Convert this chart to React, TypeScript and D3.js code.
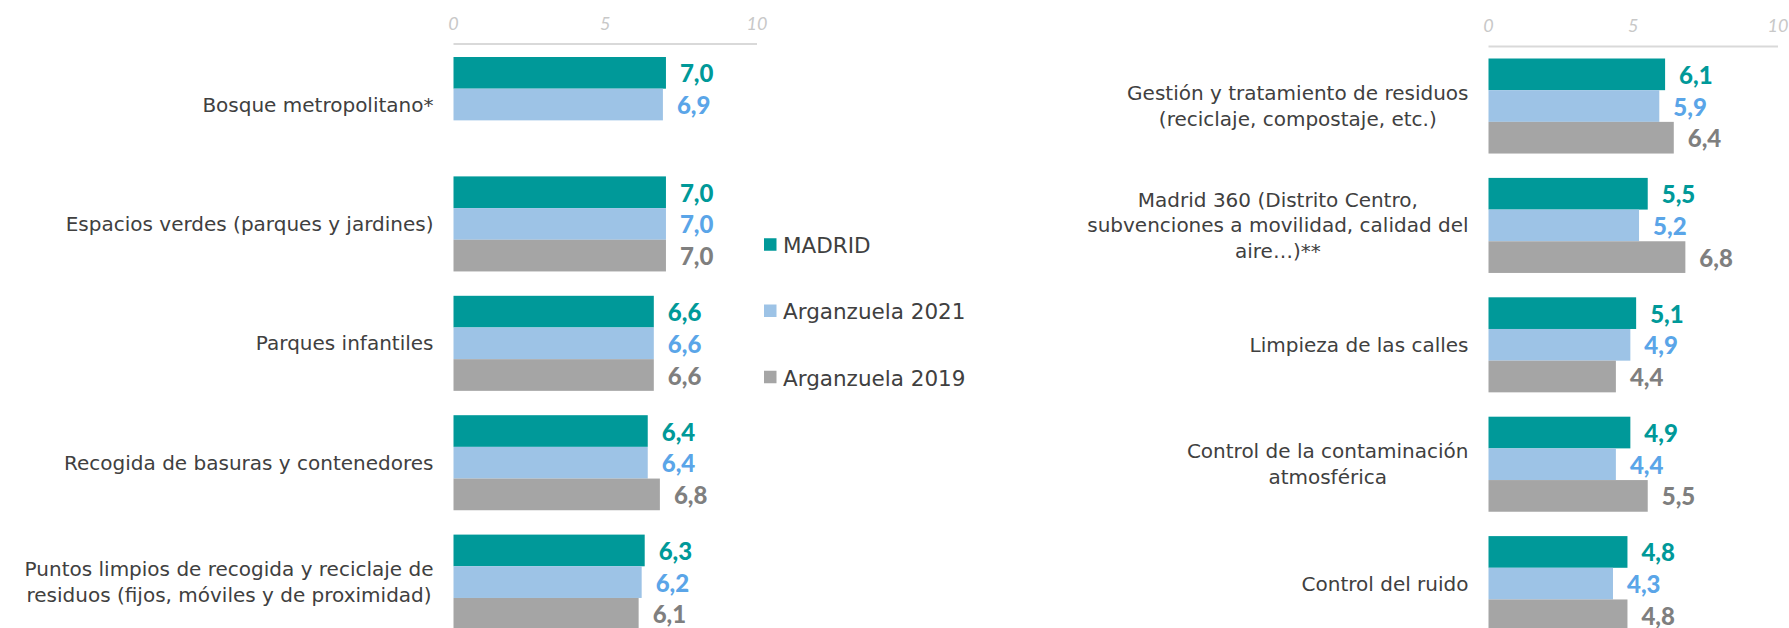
import React from "react";
import * as d3 from "d3";

const seriesNames = ["MADRID", "Arganzuela 2021", "Arganzuela 2019"];
const seriesColors = ["#009999", "#9DC3E6", "#A5A5A5"];
const valueColors = ["#009999", "#5AA5E8", "#7F7F7F"];

const leftCategories = [
  "Bosque metropolitano*",
  "Espacios verdes (parques y jardines)",
  "Parques infantiles",
  "Recogida de basuras y contenedores",
  "Puntos limpios de recogida y reciclaje de\nresiduos (fijos, móviles y de proximidad)",
];
const leftMadrid = [7.0, 7.0, 6.6, 6.4, 6.3];
const leftArg2021 = [6.9, 7.0, 6.6, 6.4, 6.2];
const leftArg2019: (number | null)[] = [null, 7.0, 6.6, 6.8, 6.1];

const rightCategories = [
  "Gestión y tratamiento de residuos\n(reciclaje, compostaje, etc.)",
  "Madrid 360 (Distrito Centro,\nsubvenciones a movilidad, calidad del\naire…)**",
  "Limpieza de las calles",
  "Control de la contaminación\natmosférica",
  "Control del ruido",
];
const rightMadrid = [6.1, 5.5, 5.1, 4.9, 4.8];
const rightArg2021 = [5.9, 5.2, 4.9, 4.4, 4.3];
const rightArg2019 = [6.4, 6.8, 4.4, 5.5, 4.8];

const tickValues = [0, 5, 10];

const LABEL_FONT = "'DejaVu Sans'";
const LABEL_SIZE = 20;
const LINE_H = 25.7;

let measureCtx: CanvasRenderingContext2D | null = null;
function measure(text: string, font: string): number {
  if (!measureCtx) {
    const c = document.createElement("canvas");
    measureCtx = c.getContext("2d");
  }
  if (!measureCtx) return text.length * 10;
  measureCtx.font = font;
  return measureCtx.measureText(text).width;
}

type PanelProps = {
  categories: string[];
  series: (number | null)[][];
  x0: number;
  x1: number;
  top: number;
  axisY: number;
  tickY: number;
};

function Panel({ categories, series, x0, x1, top, axisY, tickY }: PanelProps) {
  const x = d3.scaleLinear().domain([0, 10]).range([x0, x1]);
  const y = d3
    .scaleBand<string>()
    .domain(categories)
    .range([top, top + 119.4 * (categories.length - 0.204)])
    .paddingInner(0.204)
    .paddingOuter(0);
  const inner = d3
    .scaleBand<string>()
    .domain(seriesNames)
    .range([0, y.bandwidth()])
    .padding(0);
  const labelRight = x(0) - 20;
  const font = `${LABEL_SIZE}px ${LABEL_FONT}`;

  return (
    <g>
      {tickValues.map((t) => (
        <text
          key={t}
          x={x(t)}
          y={tickY}
          textAnchor="middle"
          dominantBaseline="central"
          fontFamily="Lato"
          fontStyle="italic"
          fontSize={18}
          fill="#C8C8C8"
        >
          {t}
        </text>
      ))}
      <line x1={x(0)} x2={x(10)} y1={axisY} y2={axisY} stroke="#D9D9D9" strokeWidth={2} />
      {categories.map((cat, ci) => {
        const lines = cat.split("\n");
        const widths = lines.map((l) => measure(l, font));
        const maxW = Math.max(...widths);
        const cx = labelRight - maxW / 2;
        const cy = (y(cat) as number) + y.bandwidth() / 2;
        const startY = cy - ((lines.length - 1) * LINE_H) / 2;
        return (
          <g key={cat}>
            {lines.map((l, li) => (
              <text
                key={li}
                x={cx}
                y={startY + li * LINE_H}
                textAnchor="middle"
                dominantBaseline="central"
                fontFamily={LABEL_FONT}
                fontSize={LABEL_SIZE}
                fill="#404040"
              >
                {l}
              </text>
            ))}
            {seriesNames.map((s, si) => {
              const v = series[si][ci];
              if (v === null || v === undefined) return null;
              const by = (y(cat) as number) + (inner(s) as number);
              return (
                <g key={s}>
                  <rect
                    x={x(0)}
                    y={by}
                    width={x(v) - x(0)}
                    height={inner.bandwidth()}
                    fill={seriesColors[si]}
                  />
                  <text
                    x={x(v) + 14}
                    y={by + inner.bandwidth() / 2}
                    dominantBaseline="central"
                    fontFamily="Lato"
                    fontWeight={900}
                    fontSize={24}
                    fill={valueColors[si]}
                  >
                    {d3.format(".1f")(v).replace(".", ",")}
                  </text>
                </g>
              );
            })}
          </g>
        );
      })}
    </g>
  );
}

export default function App() {
  const legendY = d3.scaleLinear().domain([0, 2]).range([244.5, 377]);
  return (
    <svg
      width={1789}
      height={628}
      style={{ position: "absolute", left: 0, top: 0, background: "#fff" }}
    >
      <rect width={1789} height={628} fill="#fff" />
      <Panel
        categories={leftCategories}
        series={[leftMadrid, leftArg2021, leftArg2019]}
        x0={453.5}
        x1={757}
        top={57}
        axisY={44}
        tickY={23}
      />
      <Panel
        categories={rightCategories}
        series={[rightMadrid, rightArg2021, rightArg2019]}
        x0={1488.5}
        x1={1778}
        top={58.5}
        axisY={46.5}
        tickY={25}
      />
      {seriesNames.map((s, i) => (
        <g key={s}>
          <rect x={764} y={legendY(i) - 6.25} width={12.5} height={12.5} fill={seriesColors[i]} />
          <text
            x={783}
            y={legendY(i) + 1}
            dominantBaseline="central"
            fontFamily={LABEL_FONT}
            fontSize={21.5}
            fill="#404040"
          >
            {s}
          </text>
        </g>
      ))}
    </svg>
  );
}
